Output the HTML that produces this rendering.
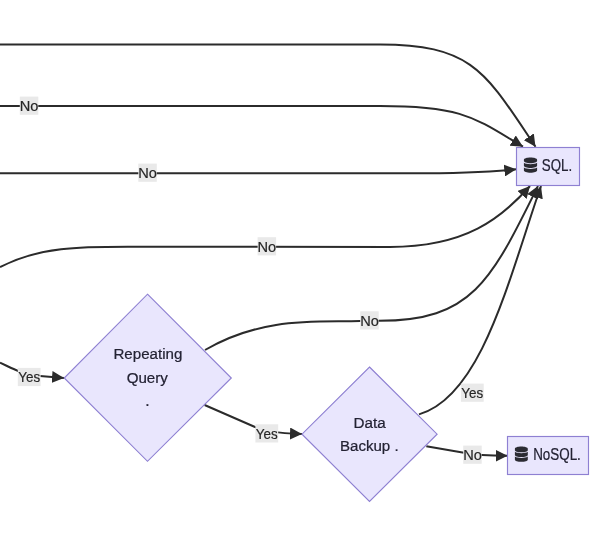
<!DOCTYPE html>
<html><head><meta charset="utf-8"><style>
html,body{margin:0;padding:0;background:#fff;width:600px;height:535px;overflow:hidden}
svg{display:block;will-change:transform}
text{font-family:"Liberation Sans",sans-serif}
</style></head><body>
<svg width="600" height="535" viewBox="0 0 600 535">
<defs><marker id="ah" viewBox="0 0 10 10" refX="10" refY="5" markerUnits="userSpaceOnUse" markerWidth="12" markerHeight="12" orient="auto"><path d="M0,0 L10,5 L0,10 z" fill="#2b2b2b"/></marker></defs>

<path d="M0,44.5 L380,44.5 C473.9,44.5 486.2,73.5 535.5,146.7" fill="none" stroke="#2b2b2b" stroke-width="2" marker-end="url(#ah)"/>
<path d="M0,106 L380,106 C463.7,106 474.9,118 523,146.7" fill="none" stroke="#2b2b2b" stroke-width="2" marker-end="url(#ah)"/>
<path d="M0,173.3 L410,173.3 C455,173.3 490,172 516.3,169.3" fill="none" stroke="#2b2b2b" stroke-width="2" marker-end="url(#ah)"/>
<path d="M0,267 C43,245.3 83.7,246.7 140,246.7 L390,246.9 C465.6,246.9 501.3,218.4 530,186" fill="none" stroke="#2b2b2b" stroke-width="2" marker-end="url(#ah)"/>
<path d="M205,350 C264.2,315.7 319.1,322.5 360,321.1 L379,320.8 C471.9,320.8 490.9,281.4 538,186" fill="none" stroke="#2b2b2b" stroke-width="2" marker-end="url(#ah)"/>
<path d="M419,414.4 C482.2,395.9 508.9,278 541,186" fill="none" stroke="#2b2b2b" stroke-width="2" marker-end="url(#ah)"/>
<path d="M0,362.7 C10,367 20,374 40,376 L64,378" fill="none" stroke="#2b2b2b" stroke-width="2" marker-end="url(#ah)"/>
<path d="M204.6,405 L255,427 C265,431 275,433 302,434" fill="none" stroke="#2b2b2b" stroke-width="2" marker-end="url(#ah)"/>
<path d="M426.3,446.2 L462.5,452.5 C475,455 490,455.8 507.5,455.8" fill="none" stroke="#2b2b2b" stroke-width="2" marker-end="url(#ah)"/>
<rect x="516.5" y="147.5" width="63" height="38" fill="#E9E6FD" stroke="#8e80d2" stroke-width="1.15"/>
<rect x="507.5" y="436.5" width="81" height="38" fill="#E9E6FD" stroke="#8e80d2" stroke-width="1.15"/>
<polygon points="147.5,294.2 231.3,378 147.5,461.3 64.2,378" fill="#E9E6FD" stroke="#8e80d2" stroke-width="1.15"/>
<polygon points="369.5,367 437.1,434.2 369.5,501.5 302,434.2" fill="#E9E6FD" stroke="#8e80d2" stroke-width="1.15"/>
<rect x="19.8" y="96.6" width="18.5" height="18.2" fill="#e9e9e9"/>
<text x="29.0" y="111.0" font-size="15.5" fill="#262626" stroke="#262626" stroke-width="0.2" text-anchor="middle" textLength="18.7" lengthAdjust="spacingAndGlyphs">No</text>
<rect x="138.3" y="163.6" width="18.5" height="18.2" fill="#e9e9e9"/>
<text x="147.6" y="178.0" font-size="15.5" fill="#262626" stroke="#262626" stroke-width="0.2" text-anchor="middle" textLength="18.7" lengthAdjust="spacingAndGlyphs">No</text>
<rect x="257.6" y="237.2" width="18.5" height="18.2" fill="#e9e9e9"/>
<text x="266.8" y="251.6" font-size="15.5" fill="#262626" stroke="#262626" stroke-width="0.2" text-anchor="middle" textLength="18.7" lengthAdjust="spacingAndGlyphs">No</text>
<rect x="360.2" y="311.3" width="18.5" height="18.2" fill="#e9e9e9"/>
<text x="369.5" y="325.7" font-size="15.5" fill="#262626" stroke="#262626" stroke-width="0.2" text-anchor="middle" textLength="18.7" lengthAdjust="spacingAndGlyphs">No</text>
<rect x="17.8" y="367.9" width="22.8" height="18.2" fill="#e9e9e9"/>
<text x="29.2" y="382.3" font-size="15.5" fill="#262626" stroke="#262626" stroke-width="0.2" text-anchor="middle" textLength="21.9" lengthAdjust="spacingAndGlyphs">Yes</text>
<rect x="255.4" y="424.3" width="22.8" height="18.2" fill="#e9e9e9"/>
<text x="266.8" y="438.7" font-size="15.5" fill="#262626" stroke="#262626" stroke-width="0.2" text-anchor="middle" textLength="21.9" lengthAdjust="spacingAndGlyphs">Yes</text>
<rect x="460.9" y="383.6" width="22.8" height="18.2" fill="#e9e9e9"/>
<text x="472.3" y="398.0" font-size="15.5" fill="#262626" stroke="#262626" stroke-width="0.2" text-anchor="middle" textLength="21.9" lengthAdjust="spacingAndGlyphs">Yes</text>
<rect x="463.2" y="445.6" width="18.5" height="18.2" fill="#e9e9e9"/>
<text x="472.5" y="460.0" font-size="15.5" fill="#262626" stroke="#262626" stroke-width="0.2" text-anchor="middle" textLength="18.7" lengthAdjust="spacingAndGlyphs">No</text>
<text x="147.9" y="359" font-size="15.3" fill="#232233" stroke="#232233" stroke-width="0.22" text-anchor="middle" textLength="68.9" lengthAdjust="spacingAndGlyphs">Repeating</text>
<text x="147.3" y="382.8" font-size="15.3" fill="#232233" stroke="#232233" stroke-width="0.22" text-anchor="middle" textLength="41.2" lengthAdjust="spacingAndGlyphs">Query</text>
<text x="147.4" y="406" font-size="15.6" fill="#232233" stroke="#232233" stroke-width="0.22" text-anchor="middle">.</text>
<text x="369.6" y="427.7" font-size="15.1" fill="#232233" stroke="#232233" stroke-width="0.22" text-anchor="middle" textLength="32.2" lengthAdjust="spacingAndGlyphs">Data</text>
<text x="369.3" y="450.9" font-size="15.1" fill="#232233" stroke="#232233" stroke-width="0.22" text-anchor="middle" textLength="58.6" lengthAdjust="spacingAndGlyphs">Backup .</text>
<path transform="translate(523.9,157.5) scale(0.02946,0.02969)" d="M448 73.143v45.714C448 159.143 347.667 192 224 192S0 159.143 0 118.857V73.143C0 32.857 100.333 0 224 0s224 32.857 224 73.143zM448 176v102.857C448 319.143 347.667 352 224 352S0 319.143 0 278.857V176c48.125 33.143 136.208 48.572 224 48.572S399.874 209.143 448 176zm0 160v102.857C448 479.143 347.667 512 224 512S0 479.143 0 438.857V336c48.125 33.143 136.208 48.572 224 48.572S399.874 369.143 448 336z" fill="#2b2b33"/>
<text x="557.0" y="170.6" font-size="15.9" fill="#232233" stroke="#232233" stroke-width="0.22" text-anchor="middle" textLength="30.3" lengthAdjust="spacingAndGlyphs">SQL.</text>
<path transform="translate(514.9,446.6) scale(0.02879,0.02969)" d="M448 73.143v45.714C448 159.143 347.667 192 224 192S0 159.143 0 118.857V73.143C0 32.857 100.333 0 224 0s224 32.857 224 73.143zM448 176v102.857C448 319.143 347.667 352 224 352S0 319.143 0 278.857V176c48.125 33.143 136.208 48.572 224 48.572S399.874 209.143 448 176zm0 160v102.857C448 479.143 347.667 512 224 512S0 479.143 0 438.857V336c48.125 33.143 136.208 48.572 224 48.572S399.874 369.143 448 336z" fill="#2b2b33"/>
<text x="557.0" y="459.9" font-size="15.6" fill="#232233" stroke="#232233" stroke-width="0.22" text-anchor="middle" textLength="47.7" lengthAdjust="spacingAndGlyphs">NoSQL.</text>
</svg></body></html>
